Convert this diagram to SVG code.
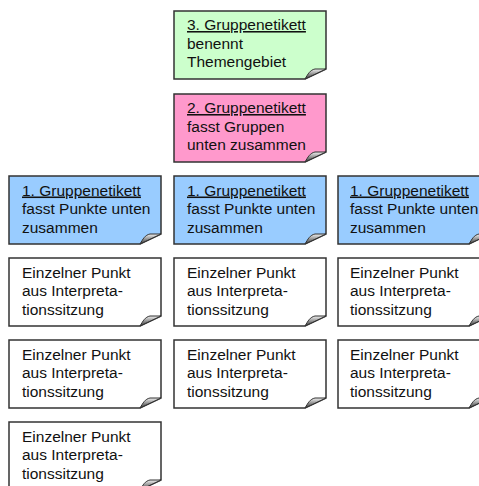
<svg xmlns="http://www.w3.org/2000/svg" xmlns:xlink="http://www.w3.org/1999/xlink" width="479" height="486" viewBox="0 0 479 486">
<style>
.t{font-family:"Liberation Sans",Arial,sans-serif;font-size:15.5px;fill:#111}
.u{text-decoration:underline}
.box{stroke:#333;stroke-width:1.5}
.green{fill:#ccffcc}.pink{fill:#ff99cc}.blue{fill:#99ccff}.white{fill:#ffffff}
.curl{stroke:#333;stroke-width:1;fill:url(#cg)}
</style>
<defs>
<linearGradient id="cg" x1="0" y1="0" x2="0" y2="1">
<stop offset="0" stop-color="#f0f0f0"/><stop offset="1" stop-color="#3a3a3a"/>
</linearGradient>
<path id="shape" d="M0,0H152V58L131,68H0Z"/>
<path id="fold" d="M131,68C134,63 136,59 141,58L152,58Z"/>
</defs>
<rect width="479" height="486" fill="#fff"/>
<g id="connectors"></g>
<g id="n3" transform="translate(174,11)">
<use xlink:href="#shape" class="box green"/><use xlink:href="#fold" class="curl"/>
<text class="t" x="13" y="19"><tspan class="u">3. Gruppenetikett</tspan><tspan x="13" dy="18.5">benennt</tspan><tspan x="13" dy="18.5">Themengebiet</tspan></text>
</g>
<g id="n2" transform="translate(174,94)">
<use xlink:href="#shape" class="box pink"/><use xlink:href="#fold" class="curl"/>
<text class="t" x="13" y="19"><tspan class="u">2. Gruppenetikett</tspan><tspan x="13" dy="18.5">fasst Gruppen</tspan><tspan x="13" dy="18.5">unten zusammen</tspan></text>
</g>
<g id="b1" transform="translate(9,176)">
<use xlink:href="#shape" class="box blue"/><use xlink:href="#fold" class="curl"/>
<text class="t" x="13" y="19.5"><tspan class="u">1. Gruppenetikett</tspan><tspan x="13" dy="18.5">fasst Punkte unten</tspan><tspan x="13" dy="18.5">zusammen</tspan></text>
</g>
<g id="b2" transform="translate(174,176)">
<use xlink:href="#shape" class="box blue"/><use xlink:href="#fold" class="curl"/>
<text class="t" x="13" y="19.5"><tspan class="u">1. Gruppenetikett</tspan><tspan x="13" dy="18.5">fasst Punkte unten</tspan><tspan x="13" dy="18.5">zusammen</tspan></text>
</g>
<g id="b3" transform="translate(338,176)">
<use xlink:href="#shape" class="box blue"/><use xlink:href="#fold" class="curl"/>
<text class="t" x="12" y="19.5"><tspan class="u">1. Gruppenetikett</tspan><tspan x="12" dy="18.5">fasst Punkte unten</tspan><tspan x="12" dy="18.5">zusammen</tspan></text>
</g>
<g id="w11" transform="translate(9,258)">
<use xlink:href="#shape" class="box white"/><use xlink:href="#fold" class="curl"/>
<text class="t" x="13" y="19.5">Einzelner Punkt<tspan x="13" dy="18.5">aus Interpreta-</tspan><tspan x="13" dy="18.5">tionssitzung</tspan></text>
</g>
<g id="w21" transform="translate(174,258)">
<use xlink:href="#shape" class="box white"/><use xlink:href="#fold" class="curl"/>
<text class="t" x="13" y="19.5">Einzelner Punkt<tspan x="13" dy="18.5">aus Interpreta-</tspan><tspan x="13" dy="18.5">tionssitzung</tspan></text>
</g>
<g id="w31" transform="translate(338,258)">
<use xlink:href="#shape" class="box white"/><use xlink:href="#fold" class="curl"/>
<text class="t" x="12" y="19.5">Einzelner Punkt<tspan x="12" dy="18.5">aus Interpreta-</tspan><tspan x="12" dy="18.5">tionssitzung</tspan></text>
</g>
<g id="w12" transform="translate(9,340)">
<use xlink:href="#shape" class="box white"/><use xlink:href="#fold" class="curl"/>
<text class="t" x="13" y="19.5">Einzelner Punkt<tspan x="13" dy="18.5">aus Interpreta-</tspan><tspan x="13" dy="18.5">tionssitzung</tspan></text>
</g>
<g id="w22" transform="translate(174,340)">
<use xlink:href="#shape" class="box white"/><use xlink:href="#fold" class="curl"/>
<text class="t" x="13" y="19.5">Einzelner Punkt<tspan x="13" dy="18.5">aus Interpreta-</tspan><tspan x="13" dy="18.5">tionssitzung</tspan></text>
</g>
<g id="w32" transform="translate(338,340)">
<use xlink:href="#shape" class="box white"/><use xlink:href="#fold" class="curl"/>
<text class="t" x="12" y="19.5">Einzelner Punkt<tspan x="12" dy="18.5">aus Interpreta-</tspan><tspan x="12" dy="18.5">tionssitzung</tspan></text>
</g>
<g id="w13" transform="translate(9,422)">
<use xlink:href="#shape" class="box white"/><use xlink:href="#fold" class="curl"/>
<text class="t" x="13" y="19.5">Einzelner Punkt<tspan x="13" dy="18.5">aus Interpreta-</tspan><tspan x="13" dy="18.5">tionssitzung</tspan></text>
</g>
</svg>
